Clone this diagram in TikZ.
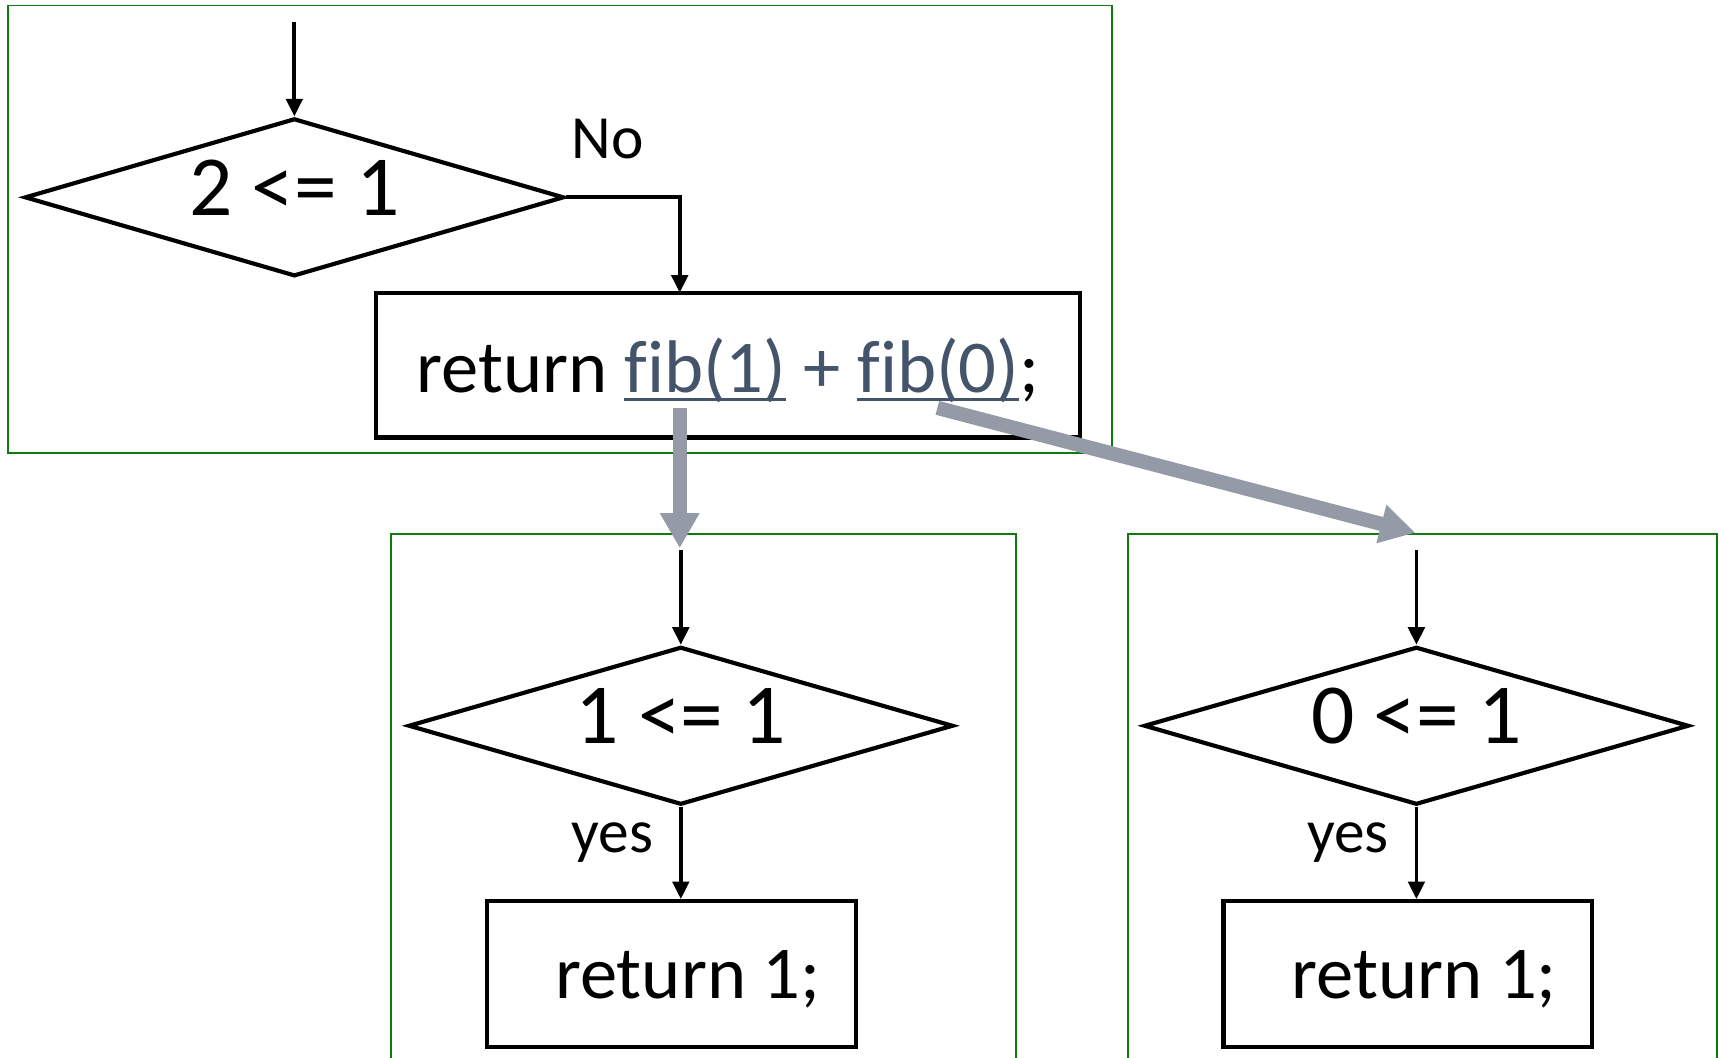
\documentclass[tikz,border=0pt]{standalone}
\usepackage{fontspec}
\setmainfont{Carlito}[Ligatures={NoCommon}]
\usetikzlibrary{shapes.geometric,arrows.meta}
\definecolor{grn}{HTML}{107A10}
\definecolor{lnk}{HTML}{44546A}
\definecolor{hatch}{HTML}{949AA6}
\newcommand\myul[1]{\setbox0\hbox{#1}\rlap{\rule[-4pt]{\wd0}{1.2pt}}\box0\relax}
\begin{document}
\begin{tikzpicture}[x=0.5pt,y=-0.5pt,
  frame/.style={draw=grn,line width=0.9pt},
  dec/.style={draw,shape=diamond,shape aspect=3.4,line width=1.9pt,inner sep=0pt,minimum width=248.5pt,minimum height=72pt,font=\fontsize{39}{46}\selectfont,text depth=9pt},
  procbox/.style={draw,rectangle,line width=1.9pt,inner sep=0pt,text depth=0pt,font=\fontsize{34}{40}\selectfont},
  flow/.style={line width=1.7pt,-{Triangle[length=8pt,width=7.5pt]}},
  lbl/.style={inner sep=0pt,font=\fontsize{28}{33}\selectfont},
  hatcharrow/.style={draw=hatch,line width=6.5pt,-{Triangle[length=16pt,width=17pt]},hatch}]
\clip (0,0) rectangle (1568,965);
% containers
\draw[frame] (7,5) rectangle (1014,413);
\draw[frame] (357,487) rectangle (927,1010);
\draw[frame] (1029,487) rectangle (1566,1010);
% top part
\coordinate (s1) at (268.5,20);
\node[dec,minimum width=246pt] (d1) at (268.5,180) {2 <= 1};
\node[procbox,minimum width=321pt,minimum height=66pt] (r0) at (664,333) {return \textcolor{lnk}{\myul{fib(1)} + \myul{fib(0)}};};
\coordinate (r0in) at (620,267);
\draw[flow] (s1) -- (d1.north);
\draw[flow] (d1.east) -| (r0in);
\node[lbl,anchor=base west] (no) at (521,145) {No};
% left bottom
\coordinate (s2) at (621,502);
\node[dec] (d2) at (621,662) {1 <= 1};
\node[procbox,minimum width=168.5pt,minimum height=66.5pt] (r1) at (612.5,888.5) {\hspace*{15pt}return 1;};
\draw[flow] (s2) -- (d2.north);
\draw[flow] (d2.south) -- (d2.south |- r1.north);
\node[lbl,anchor=base west] (y1) at (521,778) {yes};
% right bottom
\coordinate (s3) at (1292,502);
\node[dec] (d3) at (1292,662) {0 <= 1};
\node[procbox,minimum width=168pt,minimum height=66.5pt] (r2) at (1284,888.5) {\hspace*{15pt}return 1;};
\draw[flow] (s3) -- (d3.north);
\draw[flow] (d3.south) -- (d3.south |- r2.north);
\node[lbl,anchor=base west] (y2) at (1192,778) {yes};
% recursive call arrows
\coordinate (f1) at (620,372);
\coordinate (f1t) at (620,500);
\coordinate (f0) at (855,372);
\coordinate (f0t) at (1291,486);
\draw[hatcharrow] (f1) -- (f1t);
\draw[hatcharrow] (f0) -- (f0t);
\end{tikzpicture}
\end{document}
